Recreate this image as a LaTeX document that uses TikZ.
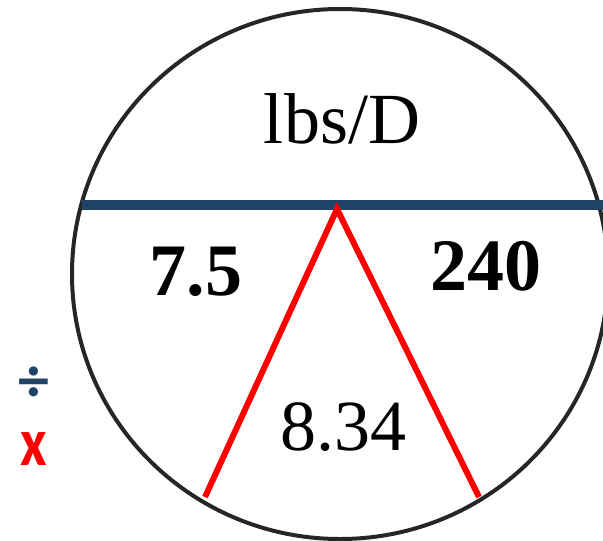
\documentclass[tikz,border=0pt]{standalone}
\usepackage{fontspec}
\setmainfont{Liberation Serif}
\newfontfamily\signfont{Carlito}
\usepackage{tikz}
\usetikzlibrary{calc}
\definecolor{Ring}{HTML}{262626}
\definecolor{Navy}{HTML}{1F4468}
\definecolor{Red}{HTML}{FF0000}
\tikzset{
  ring/.style={draw=Ring,line width=4pt},
  bar/.style={draw=Navy,line width=10pt},
  leg/.style={draw=Red,line width=6pt,line join=miter},
  value/.style={anchor=base,inner sep=0pt,font=\fontsize{72}{80}\selectfont},
  boldvalue/.style={value,font=\fontsize{74}{80}\selectfont\bfseries},
  sign/.style={inner sep=0pt,font=\signfont\bfseries\fontsize{68}{72}\selectfont}
}
\begin{document}
\begin{tikzpicture}[x=1pt,y=-1pt]
  \clip (0,0) rectangle (603,541);
  \coordinate (c) at (340,274);
  \draw[ring] (c) ellipse[x radius=268pt,y radius=265pt];
  % divider of the wheel
  \coordinate (barL) at (82,205);
  \coordinate (barR) at (610,205);
  \draw[bar] (barL) -- (barR);
  % the red wedge
  \coordinate (apex) at (337,209);
  \coordinate (footL) at (205,497);
  \coordinate (footR) at (479,497);
  \draw[leg] (footL) -- (apex) -- (footR);
  \node[value] (unit) at (342,143) {lbs/D};
  \node[boldvalue] (dose) at (196,295) {7.5};
  \node[boldvalue] (flow) at (486,290) {240};
  \node[value] (conv) at (343,450) {8.34};
  \node[sign,text=Navy,font=\signfont\bfseries\fontsize{62}{66}\selectfont] (divide) at (34,384) {÷};
  \node[sign,text=Red,xscale=0.85] (times) at (34,449) {x};
\end{tikzpicture}
\end{document}
